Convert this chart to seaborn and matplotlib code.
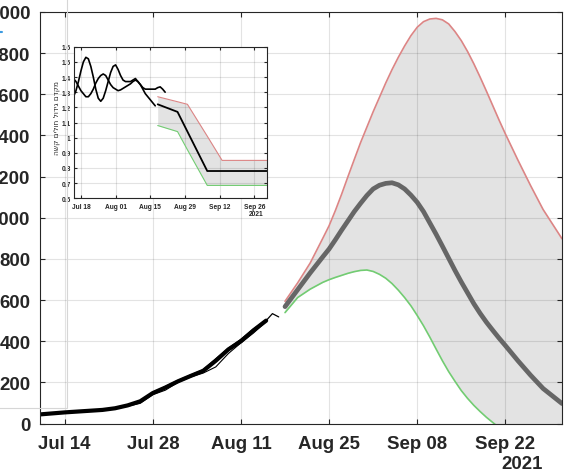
import matplotlib
matplotlib.use("Agg")
import matplotlib.pyplot as plt
import matplotlib.dates as mdates
from matplotlib.patches import Rectangle
from matplotlib.lines import Line2D
from matplotlib.ticker import FuncFormatter
import pandas as pd
import seaborn as sns

# ---- data ----
# observed severe cases (main panel)
obs_dates = ["2021-07-10", "2021-07-12", "2021-07-14", "2021-07-17", "2021-07-20",
             "2021-07-22", "2021-07-24", "2021-07-26", "2021-07-28", "2021-07-30",
             "2021-08-01", "2021-08-03", "2021-08-05", "2021-08-07", "2021-08-09",
             "2021-08-11", "2021-08-13", "2021-08-15"]
obs_main = [44, 49, 54, 60, 66, 74, 88, 108, 148, 175, 205, 231, 256, 305, 360, 400, 453, 500]
obs_low = [44, 48, 52, 58, 64, 71, 84, 98, 140, 162, 200, 226, 245, 275, 340, 392, 440, 495]
obs_high = [45, 50, 55, 61, 68, 76, 91, 112, 152, 180, 210, 236, 262, 315, 366, 410, 460, 504]

tail_dates = ["2021-08-15", "2021-08-16", "2021-08-17"]
tail_vals = [500, 534, 518]

# forecast (main panel)
fc_dates = ["2021-08-18", "2021-08-20", "2021-08-22", "2021-08-24", "2021-08-25",
            "2021-08-26", "2021-08-27", "2021-08-28", "2021-08-29", "2021-08-30",
            "2021-08-31", "2021-09-01", "2021-09-02", "2021-09-03", "2021-09-04",
            "2021-09-05", "2021-09-06", "2021-09-07", "2021-09-08", "2021-09-09",
            "2021-09-10", "2021-09-11", "2021-09-12", "2021-09-13", "2021-09-14",
            "2021-09-15", "2021-09-16", "2021-09-17", "2021-09-18", "2021-09-19",
            "2021-09-20", "2021-09-21", "2021-09-22", "2021-09-24", "2021-09-26",
            "2021-09-28", "2021-10-01"]
fc_mean = [568, 650, 732, 810, 848, 893, 940, 985, 1030, 1070,
           1108, 1140, 1158, 1167, 1170, 1160, 1140, 1110, 1075, 1030,
           975, 920, 862, 803, 744, 688, 635, 582, 535, 492,
           453, 415, 379, 305, 235, 170, 97]
fc_upper = [594, 683, 780, 900, 961, 1035, 1115, 1200, 1283, 1365,
            1440, 1515, 1585, 1655, 1720, 1780, 1835, 1885, 1926, 1953,
            1966, 1969, 1962, 1942, 1905, 1861, 1808, 1748, 1683, 1615,
            1545, 1475, 1408, 1280, 1157, 1040, 898]
fc_lower = [539, 612, 653, 686, 699, 710, 720, 730, 738, 744,
            746, 739, 725, 706, 680, 648, 612, 572, 525, 475,
            420, 362, 305, 252, 205, 160, 122, 88, 58, 30,
            5, -20, -45, -95, -150, -200, -260]

# growth coefficient (inset)
r1_dates = pd.date_range("2021-07-15", "2021-08-17").strftime("%Y-%m-%d").tolist()
r1_vals = [1.27, 1.31, 1.37, 1.44, 1.50, 1.53, 1.52, 1.47, 1.40, 1.32, 1.26, 1.24,
           1.26, 1.31, 1.37, 1.43, 1.47, 1.48, 1.45, 1.41, 1.38, 1.37, 1.37, 1.37,
           1.38, 1.39, 1.37, 1.35, 1.32, 1.29, 1.27, 1.25, 1.23, 1.21]
r2_dates = pd.date_range("2021-07-14", "2021-08-21").strftime("%Y-%m-%d").tolist()
r2_vals = [1.40, 1.39, 1.37, 1.34, 1.31, 1.29, 1.27, 1.27, 1.29, 1.32, 1.36, 1.39,
           1.41, 1.42, 1.41, 1.38, 1.35, 1.33, 1.32, 1.31, 1.315, 1.325, 1.335, 1.345,
           1.355, 1.37, 1.38, 1.37, 1.35, 1.33, 1.32, 1.32, 1.32, 1.32, 1.32, 1.33,
           1.335, 1.32, 1.30]

rf_dates = ["2021-08-18", "2021-08-26", "2021-08-30", "2021-09-07", "2021-09-13", "2021-10-01"]
rf_mean = [1.22, 1.17, 1.04, 0.78, 0.78, 0.78]
rf_upper = [1.27, 1.237, 1.22, 1.01, 0.85, 0.85]
rf_lower = [1.08, 1.04, 0.92, 0.685, 0.685, 0.685]

main_ticks = ["2021-07-14", "2021-07-28", "2021-08-11", "2021-08-25", "2021-09-08", "2021-09-22"]
inset_ticks = ["2021-07-18", "2021-08-01", "2021-08-15", "2021-08-29", "2021-09-12", "2021-09-26"]
ylabel_he = "מקדם גידול חולים קשה"

# ---- style ----
sns.set_style("ticks")
plt.rcParams["font.family"] = ["Liberation Sans", "DejaVu Sans"]
plt.rcParams["font.weight"] = "bold"

W, H = 577, 477


def fx(px):
    return px / W


def fy(py):
    return 1 - py / H


def box_axes(a, size, length, padx, pady):
    for s in a.spines.values():
        s.set_visible(True)
        s.set_color("#262626")
        s.set_linewidth(0.8)
    a.tick_params(direction="in", top=True, right=True, length=length, width=0.8,
                  color="#262626", labelcolor="#262626", labelsize=size)
    a.tick_params(axis="x", pad=padx)
    a.tick_params(axis="y", pad=pady)
    a.grid(True, color="black", alpha=0.11, linewidth=0.8)
    a.set_axisbelow("line")
    a.set_xlabel("")
    a.set_ylabel("")


dt = pd.to_datetime

fig = plt.figure(figsize=(5.77, 4.77), dpi=100)
ax = fig.add_axes([fx(39.5), fy(424.5), fx(562) - fx(39.5), fy(13) - fy(424.5)])

ax.fill_between(dt(fc_dates), fc_lower, fc_upper, color="#e3e3e3", linewidth=0, zorder=1)
sns.lineplot(x=dt(fc_dates), y=fc_upper, ax=ax, color="#dc8585", linewidth=1.2)
sns.lineplot(x=dt(fc_dates), y=fc_lower, ax=ax, color="#72cc72", linewidth=1.2)
sns.lineplot(x=dt(fc_dates), y=fc_mean, ax=ax, color="#666666", linewidth=3.4)

sns.lineplot(x=dt(obs_dates), y=obs_low, ax=ax, color="black", linewidth=0.8)
sns.lineplot(x=dt(obs_dates), y=obs_high, ax=ax, color="black", linewidth=0.8)
sns.lineplot(x=dt(obs_dates), y=obs_main, ax=ax, color="black", linewidth=3.0)
sns.lineplot(x=dt(tail_dates), y=tail_vals, ax=ax, color="black", linewidth=0.9)

ax.set_xlim(dt("2021-07-10"), dt("2021-10-01"))
ax.set_ylim(0, 2000)
ax.set_yticks(range(0, 2001, 200))
ax.set_xticks(dt(main_ticks))
ax.xaxis.set_major_formatter(mdates.DateFormatter("%b %d"))
box_axes(ax, 13.4, 3.6, 8, 6.4)
fig.text(fx(543), fy(465), "2021", ha="right", va="center", fontsize=13.4,
         weight="bold", color="#262626")

# ---- inset ----
axi = fig.add_axes([fx(74), fy(199.3), fx(266.7) - fx(74), fy(47.7) - fy(199.3)])
axi.set_facecolor("white")
axi.fill_between(dt(rf_dates), rf_lower, rf_upper, color="#e3e3e3", linewidth=0, zorder=1)
sns.lineplot(x=dt(rf_dates), y=rf_upper, ax=axi, color="#dc8585", linewidth=0.8)
sns.lineplot(x=dt(rf_dates), y=rf_lower, ax=axi, color="#72cc72", linewidth=0.8)
sns.lineplot(x=dt(rf_dates), y=rf_mean, ax=axi, color="black", linewidth=1.3)
sns.lineplot(x=dt(r1_dates), y=r1_vals, ax=axi, color="black", linewidth=1.2)
sns.lineplot(x=dt(r2_dates), y=r2_vals, ax=axi, color="black", linewidth=1.2)

axi.set_xlim(dt("2021-07-15 05:00"), dt("2021-10-01"))
axi.set_ylim(0.6, 1.6)
axi.set_yticks([0.6 + 0.1 * i for i in range(11)])
axi.yaxis.set_major_formatter(FuncFormatter(lambda v, p: f"{v:g}"))
axi.set_xticks(dt(inset_ticks))
axi.xaxis.set_major_formatter(mdates.DateFormatter("%b %d"))
box_axes(axi, 4.8, 2.0, 3.4, 2.4)
fig.text(fx(263), fy(215), "2021", ha="right", va="center", fontsize=4.8,
         weight="bold", color="#262626")
fig.text(fx(56.7), fy(118), ylabel_he[::-1], rotation=90, ha="center", va="center",
         fontsize=5.3, weight="normal", color="#262626",
         family=["DejaVu Sans", "Liberation Sans"])

# cut-off legend box of a neighbouring panel on the left edge
fig.add_artist(Rectangle((fx(-60), fy(409)), (67 + 60) / W, (409 + 30) / H,
                         transform=fig.transFigure, fill=False,
                         edgecolor="#d6d6d6", linewidth=0.8))
fig.add_artist(Line2D([fx(-3), fx(2)], [fy(33), fy(33)], transform=fig.transFigure,
                      color="#3d9be0", linewidth=1.5))

fig.savefig("out.png", dpi=100)
